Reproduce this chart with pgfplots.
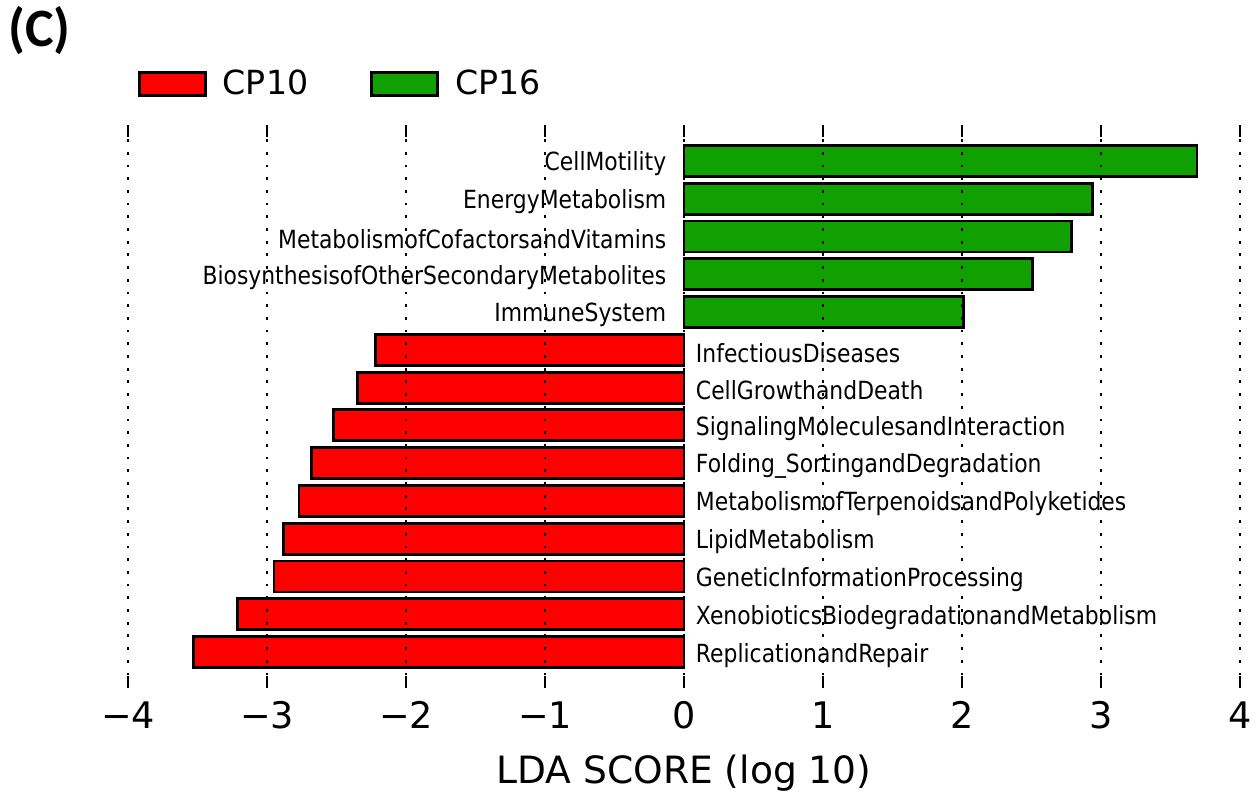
\documentclass[border=0pt]{standalone}
\usepackage{pgfplots}
\pgfplotsset{compat=1.18}
\usepackage{pgfplotstable}
\usepackage{fontspec}
\setmainfont{DejaVu Sans}
\newfontfamily\labelfont[FakeStretch=0.875]{DejaVu Sans}
\newfontfamily\panelfont{Carlito}
\definecolor{cpred}{RGB}{255,0,0}
\definecolor{cpgreen}{RGB}{16,160,0}
\pgfplotsset{boxlegend/.style={legend image code/.code={\draw[##1] (0pt,-5.75pt) rectangle (33pt,5.75pt);}}}

\pgfplotstableread{
y value label
13 3.69 CellMotility
12 2.94 EnergyMetabolism
11 2.79 MetabolismofCofactorsandVitamins
10 2.51 BiosynthesisofOtherSecondaryMetabolites
9 2.01 ImmuneSystem
}\postab

\pgfplotstableread{
y value label
8 -2.22 InfectiousDiseases
7 -2.35 CellGrowthandDeath
6 -2.52 SignalingMoleculesandInteraction
5 -2.68 Folding\_SortingandDegradation
4 -2.77 MetabolismofTerpenoidsandPolyketides
3 -2.88 LipidMetabolism
2 -2.95 GeneticInformationProcessing
1 -3.21 XenobioticsBiodegradationandMetabolism
0 -3.53 ReplicationandRepair
}\negtab

\begin{document}
\begin{tikzpicture}
\useasboundingbox (0,0) rectangle (630pt,400pt);
\node[anchor=west, font=\panelfont\bfseries\fontsize{27}{31}\selectfont, inner sep=0pt] at (4pt,384.5pt) {(C)};
\begin{axis}[
  at={(64pt,56pt)}, anchor=south west,
  scale only axis, width=556pt, height=281.5pt,
  xmin=-4, xmax=4, ymin=-0.95, ymax=13.95,
  clip=false, axis on top,
  axis line style={draw=none},
  ytick=\empty,
  xtick={-4,-3,-2,-1,0,1,2,3,4},
  xticklabels={−4,−3,−2,−1,0,1,2,3,4},
  xtick pos=both, xticklabel pos=lower,
  tick align=inside, major tick length=6pt,
  tick style={black, line width=1pt},
  xticklabel style={anchor=base, yshift=-20pt, font=\fontsize{18.3}{22}\selectfont},
  xmajorgrids,
  major grid style={black, line width=1pt, dash pattern=on 1.4pt off 4.95pt},
  xlabel={LDA SCORE (log 10)},
  xlabel style={at={(axis description cs:0.5,-0.151)}, anchor=center, font=\fontsize{18.8}{22}\selectfont},
  legend columns=2,
  legend style={at={(0.0090,1.0728)}, anchor=west, draw=none, fill=none,
    inner sep=0pt, outer sep=0pt,
    font=\fontsize{16.6}{20}\selectfont,
    nodes={inner sep=0pt, outer sep=0pt},
    /tikz/every odd column/.append style={column sep=8pt},
    /tikz/every even column/.append style={column sep=31pt}},
]
\addplot[xbar, bar width=15.5pt, bar shift=0pt, fill=cpred, draw=black, line width=1.4pt, boxlegend]
  table[x=value, y=y] {\negtab};
\addlegendentry{CP10}
\addplot[xbar, bar width=15.5pt, bar shift=0pt, fill=cpgreen, draw=black, line width=1.4pt, boxlegend]
  table[x=value, y=y] {\postab};
\addlegendentry{CP16}
\addplot[draw=none, mark=none, forget plot, nodes near coords, point meta=explicit symbolic,
  nodes near coords style={anchor=east, inner sep=0pt, xshift=-8.7pt, yshift=-1.5pt,
    font=\labelfont\fontsize{12.5}{14}\selectfont, text=black}]
  table[x expr=0, y=y, meta=label] {\postab};
\addplot[draw=none, mark=none, forget plot, nodes near coords, point meta=explicit symbolic,
  nodes near coords style={anchor=west, inner sep=0pt, xshift=5.8pt, yshift=-1.5pt,
    font=\labelfont\fontsize{12.5}{14}\selectfont, text=black}]
  table[x expr=0, y=y, meta=label] {\negtab};
\end{axis}
\end{tikzpicture}
\end{document}
